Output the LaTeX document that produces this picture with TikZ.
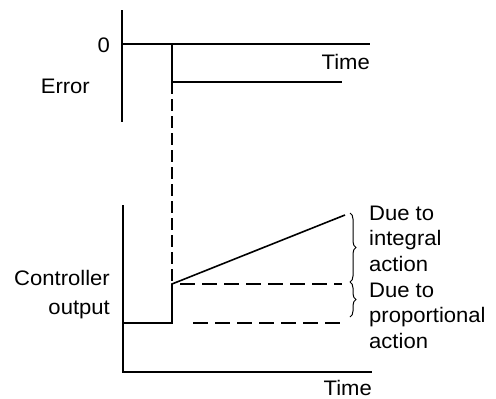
\documentclass[tikz,border=0pt]{standalone}
\usepackage{fontspec}
\setmainfont[FakeStretch=1.05]{Liberation Sans}
\usetikzlibrary{decorations.pathreplacing}
\begin{document}
\begin{tikzpicture}[x=1pt,y=-1pt,
  axis/.style={line width=1.3pt},
  sig/.style={line width=1.6pt},
  vdsh/.style={line width=1.1pt,dash pattern=on 12pt off 5pt},
  hdsh/.style={line width=1.1pt,dash pattern=on 15pt off 7pt},
  lbl/.style={font=\fontsize{21}{25.3}\selectfont,inner sep=0pt},
  brc/.style={decorate,decoration={brace,amplitude=6pt},line width=1pt}]
\useasboundingbox (0,0) rectangle (496,399);
% top axes
\coordinate (ta) at (122,10);
\coordinate (tb) at (122,122);
\coordinate (z0) at (122,44);
\coordinate (z1) at (370,44);
\draw[axis] (ta) -- (tb);
\draw[axis] (z0) -- (z1);
\coordinate (s0) at (172,44);
\coordinate (s1) at (172,82);
\coordinate (s2) at (342,82);
\draw[sig] (s0) -- (s1) -- (s2);
\node[lbl,anchor=base east] (zero) at (110,52) {0};
\node[lbl,anchor=base east] (time1) at (370,69) {Time};
\node[lbl,anchor=base east] (err) at (90,93) {Error};
% dashed link
\coordinate (d1) at (172,284);
\draw[vdsh] (s1) -- (d1);
% bottom axes
\coordinate (ba) at (123,205);
\coordinate (bo) at (123,372);
\coordinate (bx) at (372,372);
\draw[axis] (ba) -- (bo) -- (bx);
\node[lbl,anchor=base east] (time2) at (372,395) {Time};
\node[lbl,anchor=north east,align=right,font=\fontsize{21}{29}\selectfont] (ctl) at (110,270) {Controller\\output};
% output signal
\coordinate (o0) at (123,323);
\coordinate (o1) at (172,323);
\coordinate (o3) at (345,215);
\draw[sig] (o0) -- (o1) -- (d1) -- (o3);
\coordinate (q1) at (180,284);
\coordinate (p1) at (342,284);
\coordinate (q2) at (193,323);
\coordinate (p2) at (342,323);
\draw[hdsh] (q1) -- (p1);
\draw[hdsh] (q2) -- (p2);
% braces
\coordinate (b1) at (350,213);
\coordinate (b2) at (350,282);
\coordinate (b3) at (350,317);
\draw[brc] (b1) -- (b2);
\draw[brc] (b2) -- (b3);
\node[lbl,anchor=north west,align=left] (int) at (369,206) {Due to\\integral\\action};
\node[lbl,anchor=north west,align=left] (prop) at (369,283) {Due to\\proportional\\action};
\end{tikzpicture}
\end{document}
